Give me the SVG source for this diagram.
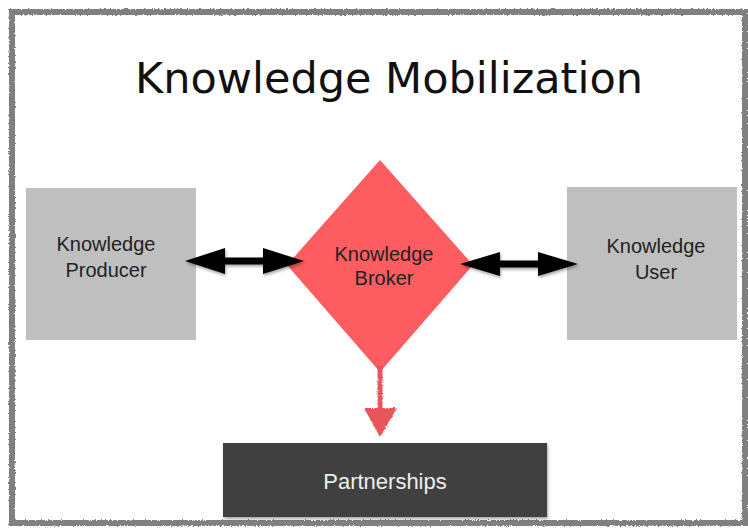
<svg xmlns="http://www.w3.org/2000/svg" width="748" height="531" viewBox="0 0 748 531">
<defs>
<filter id="sh" x="-10%" y="-20%" width="130%" height="160%"><feDropShadow dx="1" dy="2" stdDeviation="1.5" flood-color="#000" flood-opacity="0.35"/></filter>
<filter id="rough" x="-2%" y="-2%" width="104%" height="104%"><feTurbulence type="fractalNoise" baseFrequency="0.6" numOctaves="2" seed="3" result="n"/><feDisplacementMap in="SourceGraphic" in2="n" scale="3"/></filter>
</defs>
<style>
.box{fill:#bfbfbf}
.lbl{font-family:"Liberation Sans",Arial,sans-serif;font-size:20px;fill:#222;text-anchor:middle}
.arr{fill:#000}
</style>
<rect x="0" y="0" width="748" height="531" fill="#fff"/>
<g filter="url(#rough)">
<rect x="12" y="12" width="733" height="511" fill="none" stroke="#808080" stroke-width="6"/>
</g>
<text x="389" y="93" font-family="'DejaVu Sans',sans-serif" font-size="43" fill="#111" text-anchor="middle">Knowledge Mobilization</text>
<g id="producer"><rect class="box" x="26" y="188" width="170" height="152"/><text class="lbl" x="106" y="251">Knowledge</text><text class="lbl" x="106" y="277">Producer</text></g>
<g id="user"><rect class="box" x="567" y="187" width="170" height="153"/><text class="lbl" x="656" y="253">Knowledge</text><text class="lbl" x="656" y="279">User</text></g>
<g id="broker"><polygon points="380,160 473,265 380,372 287,265" fill="#fd5d60"/><text class="lbl" x="384" y="261">Knowledge</text><text class="lbl" x="384" y="285">Broker</text></g>
<g id="partnerships"><rect x="223" y="443" width="324" height="74" fill="#404040" filter="url(#sh)"/><text class="lbl" x="385" y="489" style="fill:#eee;font-size:22px">Partnerships</text></g>
<g id="connectors">
<path class="arr" filter="url(#sh)" d="M185,261 L225,248 L225,257.5 L263,257.5 L263,248 L304,261 L263,274 L263,264.5 L225,264.5 L225,274 Z"/>
<path class="arr" filter="url(#sh)" d="M460,264 L500,252 L500,260.5 L538,260.5 L538,252 L578,264 L538,276 L538,267.5 L500,267.5 L500,276 Z"/>
<g filter="url(#rough)">
<line x1="380" y1="365" x2="380" y2="408" stroke="#e8555a" stroke-width="5"/>
<polygon points="364,408 397,408 380,437" fill="#e8555a"/>
</g>
</g>
</svg>
